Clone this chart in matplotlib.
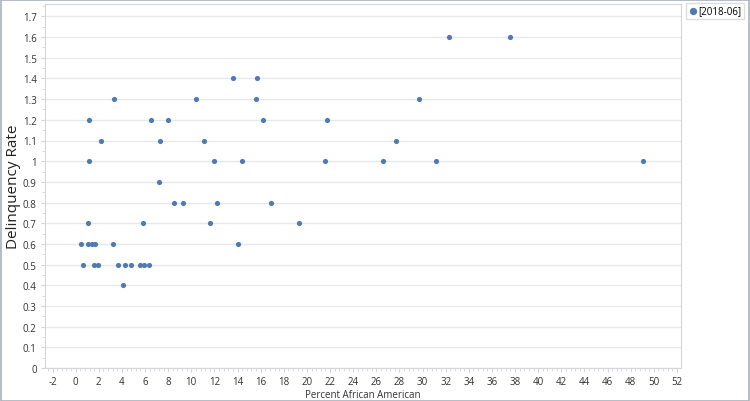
import numpy as np
import matplotlib.pyplot as plt
from matplotlib.ticker import MultipleLocator
from matplotlib.patches import Rectangle

plt.rcParams['font.family'] = ['Open Sans', 'DejaVu Sans']
plt.rcParams['axes.unicode_minus'] = False

# percent African American vs delinquency rate, series [2018-06]
pct_african_american = [
    0.5, 0.67, 1.08, 1.1, 1.4, 1.7, 1.6, 1.9, 3.2, 3.67, 4.1, 4.28, 4.8,
    5.57, 5.95, 6.32, 5.86, 8.49, 9.26, 11.6, 12.26, 14.04,
    1.17, 1.17, 2.15, 3.36, 6.53, 7.3, 7.97, 7.2, 10.39, 11.08, 11.94,
    13.58, 14.42, 15.71, 15.6, 16.23, 21.76, 21.59, 26.58, 27.67, 29.69,
    31.13, 32.25, 16.9, 19.35, 37.53, 49.1,
]
delinquency_rate = [
    0.6, 0.5, 0.7, 0.6, 0.6, 0.6, 0.5, 0.5, 0.6, 0.5, 0.4, 0.5, 0.5,
    0.5, 0.5, 0.5, 0.7, 0.8, 0.8, 0.7, 0.8, 0.6,
    1.2, 1.0, 1.1, 1.3, 1.2, 1.1, 1.2, 0.9, 1.3, 1.1, 1.0,
    1.4, 1.0, 1.4, 1.3, 1.2, 1.2, 1.0, 1.0, 1.1, 1.3,
    1.0, 1.6, 0.8, 0.7, 1.6, 1.0,
]
series_label = "[2018-06]"

dot_color = "#4f7ab6"
grid_color = "#e6e8ec"
frame_color = "#d4d6da"
tick_color = "#333333"

fig = plt.figure(figsize=(7.5, 4.02), dpi=100)
ax = fig.add_axes([45 / 750, 1 - 369 / 402, (681 - 45) / 750, (369 - 5) / 402])

ax.scatter(pct_african_american, delinquency_rate, s=14, color=dot_color,
           linewidths=0, zorder=3, label=series_label)

ax.set_xlim(-2.65, 52.35)
ax.set_ylim(0, 1.76)
ax.xaxis.set_major_locator(MultipleLocator(2))
ax.xaxis.set_minor_locator(MultipleLocator(0.4))
ax.yaxis.set_minor_locator(MultipleLocator(0.05))

yt = np.arange(0, 1.71, 0.1)
ax.set_yticks(yt)
ax.set_yticklabels(["0" if v == 0 else ("1" if abs(v - 1) < 1e-9 else "%.1f" % v) for v in yt])

ax.grid(axis="y", color=grid_color, linewidth=1, zorder=0)
for s in ax.spines.values():
    s.set_color(frame_color)
ax.tick_params(axis="both", which="major", labelsize=7, colors=frame_color,
               labelcolor=tick_color, length=3, width=0.8)
ax.tick_params(axis="both", which="minor", colors=frame_color, length=2, width=0.6)
ax.tick_params(axis="x", pad=3)
ax.tick_params(axis="y", pad=3)

ax.set_xlabel("Percent African American", fontsize=7, color=tick_color, labelpad=1)
ax.set_ylabel("Delinquency Rate", fontsize=11, color="#222222")
ax.yaxis.set_label_coords(-24 / 636, 0.5)

ax.legend(loc="upper left", bbox_to_anchor=(686 / 750, 1 - 4 / 402),
          bbox_transform=fig.transFigure, fontsize=7, frameon=True,
          fancybox=False, edgecolor=frame_color, handletextpad=0.1,
          borderpad=0.25, borderaxespad=0, markerscale=1.4, handlelength=0.9)

# outer frame of the chart image
fig.patches.append(Rectangle((0.0007, 0.001), 0.9986, 0.997, transform=fig.transFigure,
                             fill=False, edgecolor="#aab2be", linewidth=1.2))

fig.savefig("out.png", dpi=100)
